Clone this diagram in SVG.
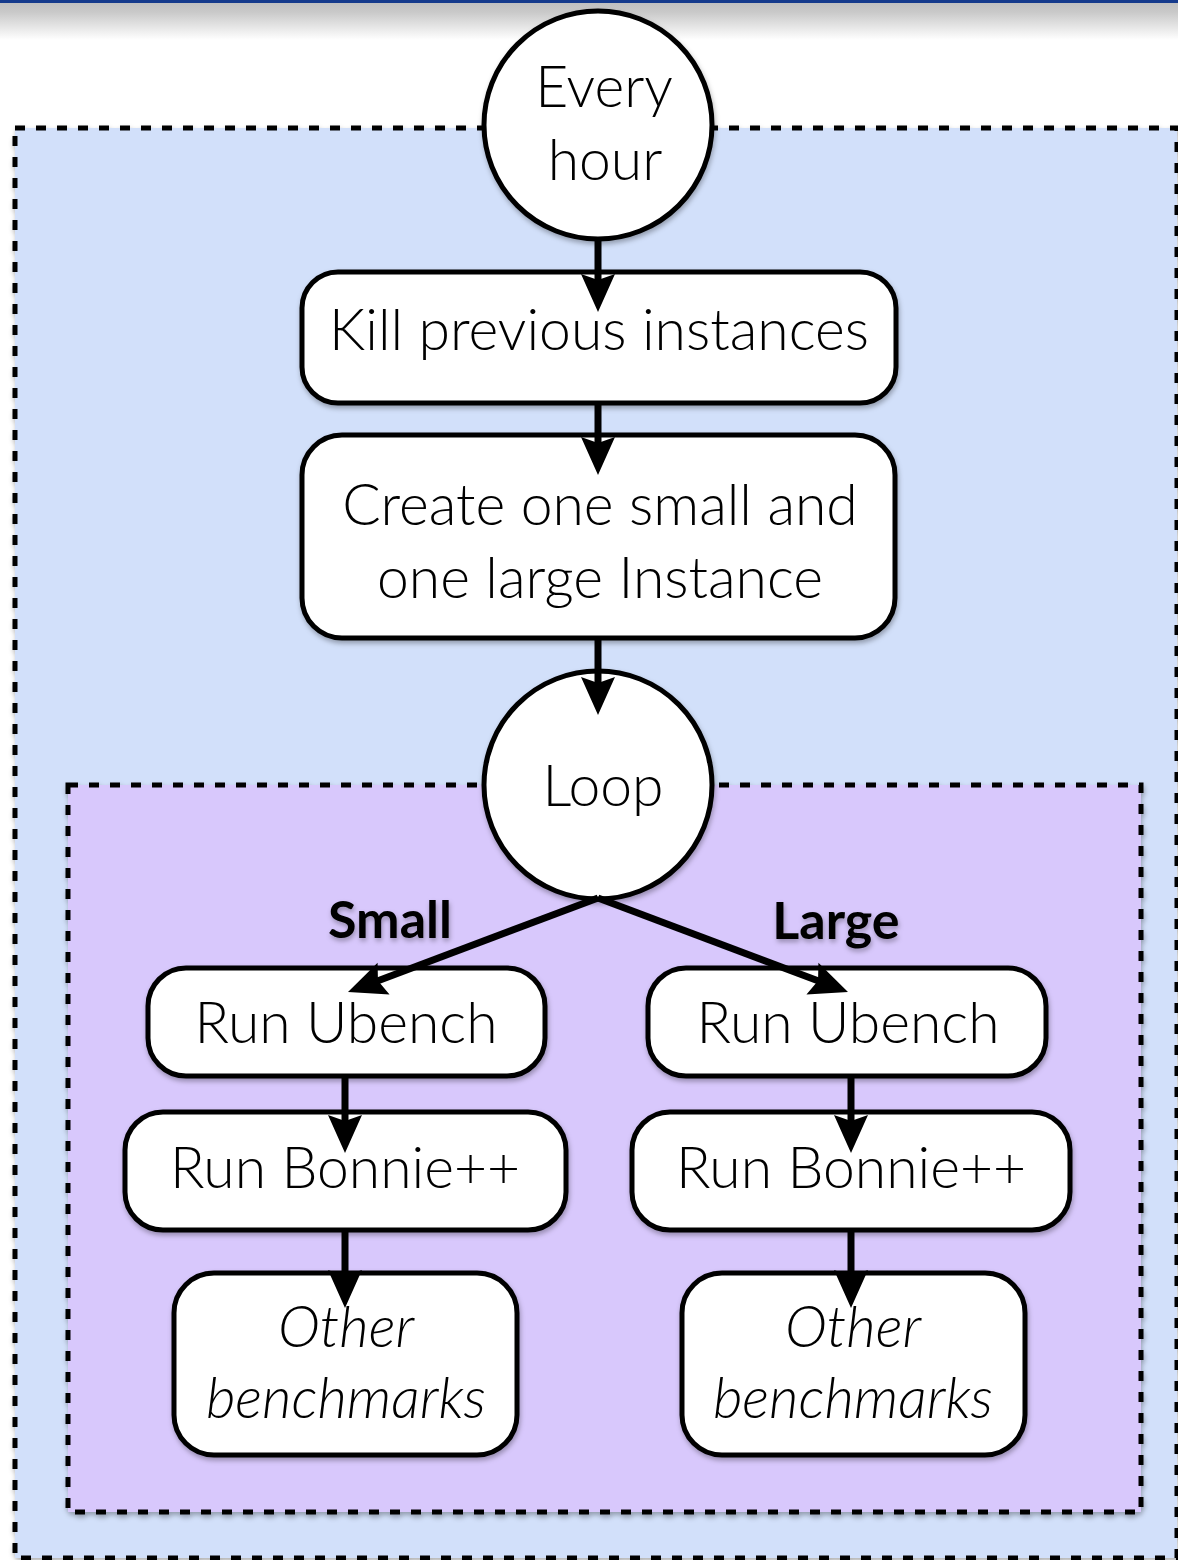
<svg xmlns="http://www.w3.org/2000/svg" width="1178" height="1560" viewBox="0 0 1178 1560">
  <defs>
    <linearGradient id="hdr" x1="0" y1="0" x2="0" y2="1">
      <stop offset="0" stop-color="#bdbdbd"/>
      <stop offset="0.3" stop-color="#c9c9c9"/>
      <stop offset="1" stop-color="#ffffff"/>
    </linearGradient>
    <filter id="shadow" x="-10%" y="-10%" width="120%" height="130%">
      <feDropShadow dx="1" dy="3" stdDeviation="2.5" flood-color="#000" flood-opacity="0.3"/>
    </filter>
    <marker id="arrow" markerUnits="userSpaceOnUse" viewBox="-2 -20 44 40" markerWidth="44" markerHeight="40" refX="13" refY="0" orient="auto">
      <path d="M0,-17 L38,0 L0,17 L6,0 Z" fill="#000"/>
    </marker>
    <style>
      .region { stroke: #000; stroke-width: 5; stroke-dasharray: 10 11; }
      .box { fill: #fff; stroke: #000; stroke-width: 5; }
      .label { font-family: Lato, "Open Sans", sans-serif; font-weight: 300; font-size: 57px; fill: #000; text-anchor: middle; }
      .italic { font-style: italic; }
      .branch { font-family: Lato, "Open Sans", sans-serif; font-weight: 700; font-size: 52px; fill: #000; text-anchor: middle; }
      .edge { fill: none; stroke: #000; stroke-width: 7; marker-end: url(#arrow); }
    </style>
  </defs>

  <!-- page header strip -->
  <rect x="0" y="0" width="1178" height="40" fill="url(#hdr)"/>
  <rect x="0" y="0" width="1178" height="3" fill="#153a8c"/>

  <!-- hourly scope -->
  <g id="hourly-scope" filter="url(#shadow)">
    <rect x="15" y="128" width="1162" height="1430" fill="#d2e0fa" class="region"/>
  </g>

  <!-- loop scope -->
  <g id="loop-scope" filter="url(#shadow)">
    <rect x="68" y="785" width="1073" height="727" fill="#d8c8fc" class="region"/>
  </g>

  <g id="every-hour" filter="url(#shadow)">
    <circle cx="598" cy="125" r="114" class="box"/>
    <text x="604" y="107" class="label">Every</text>
    <text x="605" y="180" class="label">hour</text>
  </g>

  <g id="kill-instances" filter="url(#shadow)">
    <rect x="302" y="272" width="594" height="131" rx="36" class="box"/>
    <text x="599" y="350" class="label">Kill previous instances</text>
  </g>

  <g id="create-instances" filter="url(#shadow)">
    <rect x="302" y="435" width="593" height="203" rx="40" class="box"/>
    <text x="600" y="525" class="label">Create one small and</text>
    <text x="600" y="598" class="label">one large Instance</text>
  </g>

  <g id="loop" filter="url(#shadow)">
    <circle cx="598" cy="785" r="114" class="box"/>
    <text x="603" y="806" class="label">Loop</text>
  </g>

  <g id="label-small" filter="url(#shadow)">
    <text x="390" y="938" class="branch">Small</text>
  </g>
  <g id="label-large" filter="url(#shadow)">
    <text x="836" y="939" class="branch">Large</text>
  </g>

  <g id="small-ubench" filter="url(#shadow)">
    <rect x="148" y="968" width="397" height="108" rx="38" class="box"/>
    <text x="346" y="1043" class="label">Run Ubench</text>
  </g>
  <g id="large-ubench" filter="url(#shadow)">
    <rect x="648" y="968" width="398" height="108" rx="38" class="box"/>
    <text x="848" y="1043" class="label">Run Ubench</text>
  </g>

  <g id="small-bonnie" filter="url(#shadow)">
    <rect x="125" y="1112" width="441" height="118" rx="38" class="box"/>
    <text x="345" y="1188" class="label">Run Bonnie++</text>
  </g>
  <g id="large-bonnie" filter="url(#shadow)">
    <rect x="632" y="1112" width="438" height="118" rx="38" class="box"/>
    <text x="851" y="1188" class="label">Run Bonnie++</text>
  </g>

  <g id="small-other" filter="url(#shadow)">
    <rect x="174" y="1273" width="343" height="182" rx="40" class="box"/>
    <text x="346" y="1347" class="label italic">Other</text>
    <text x="346" y="1418" class="label italic">benchmarks</text>
  </g>
  <g id="large-other" filter="url(#shadow)">
    <rect x="682" y="1273" width="343" height="182" rx="40" class="box"/>
    <text x="853" y="1347" class="label italic">Other</text>
    <text x="853" y="1418" class="label italic">benchmarks</text>
  </g>

  <!-- connectors: each line stops 25px short of the arrow tip; the marker supplies the rest -->
  <g id="connectors">
    <line x1="598" y1="239" x2="598" y2="287" class="edge"/>
    <line x1="598" y1="403" x2="598" y2="450" class="edge"/>
    <line x1="598" y1="638" x2="598" y2="690" class="edge"/>
    <line x1="598" y1="898" x2="371.4" y2="983.2" class="edge"/>
    <line x1="598" y1="898" x2="824.6" y2="983.2" class="edge"/>
    <line x1="345" y1="1076" x2="345" y2="1128" class="edge"/>
    <line x1="345" y1="1230" x2="345" y2="1283" class="edge"/>
    <line x1="851" y1="1076" x2="851" y2="1128" class="edge"/>
    <line x1="851" y1="1230" x2="851" y2="1283" class="edge"/>
  </g>
</svg>
